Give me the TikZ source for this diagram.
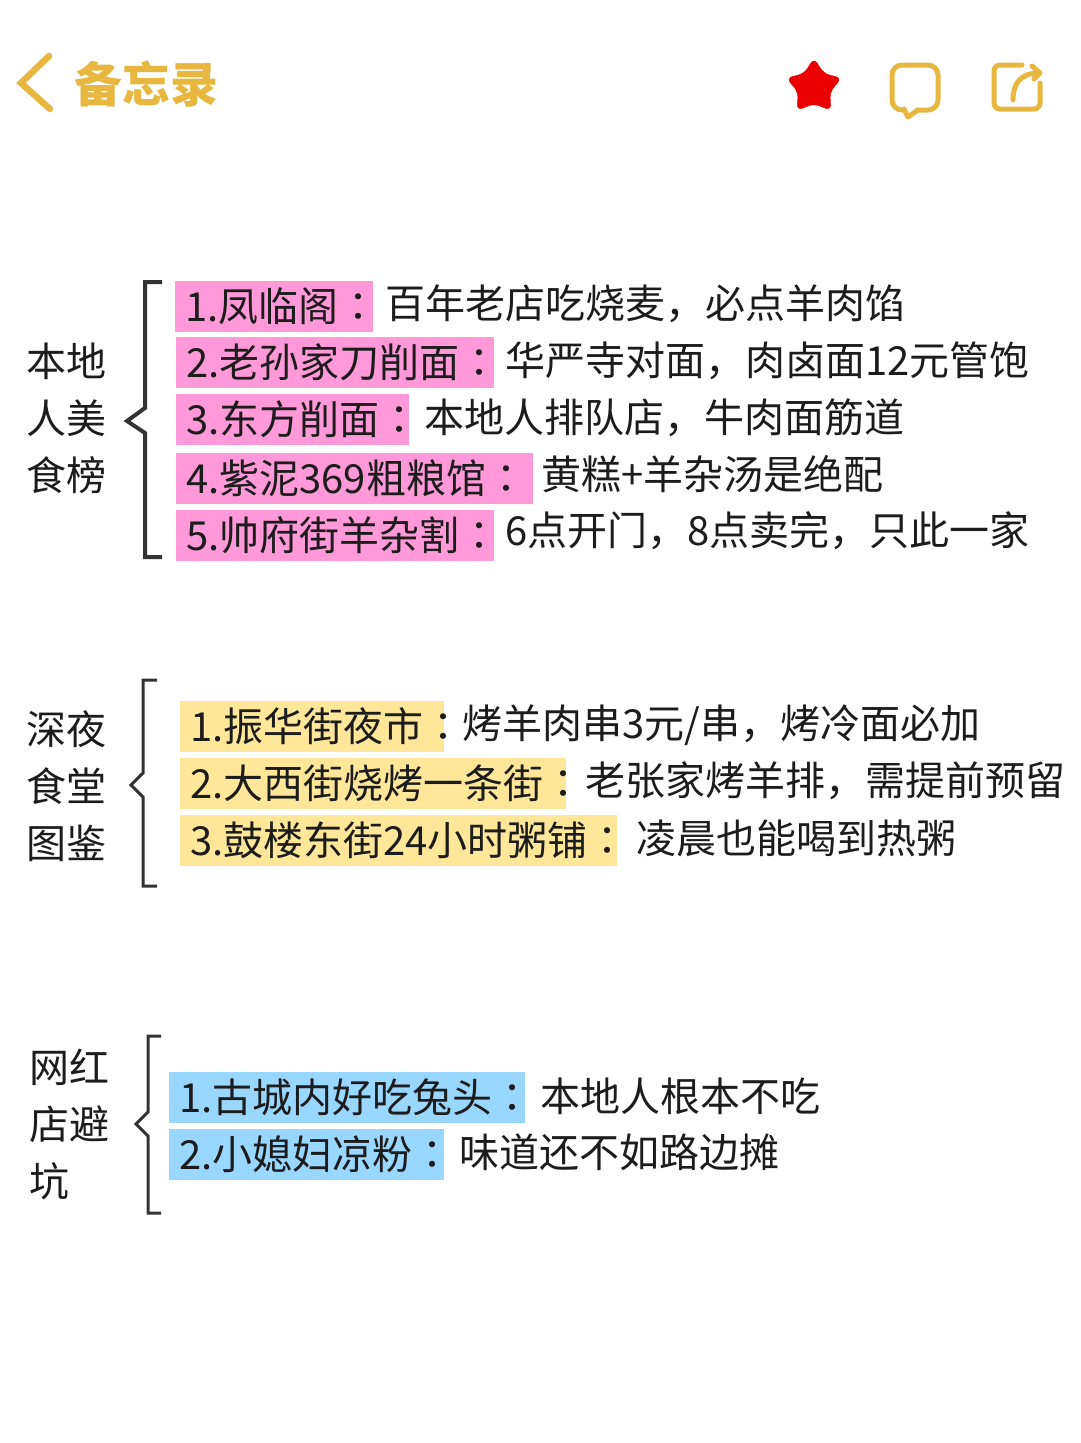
\documentclass[tikz,border=0pt]{standalone}
\usepackage{fontspec}
\usepackage{tikz}
\usetikzlibrary{shapes.geometric}
\setmainfont{Noto Sans CJK SC}
\newfontfamily\tcfont{Noto Sans CJK TC}
\newcommand{\cl}{{\tcfont ：}\kern-10pt}
\definecolor{gold}{HTML}{E8B740}
\definecolor{inkc}{HTML}{1C1C1C}
\definecolor{brk}{HTML}{333333}
\definecolor{pinkbar}{HTML}{FF99D9}
\definecolor{yelbar}{HTML}{FFE79A}
\definecolor{blubar}{HTML}{9AD7FF}
\tikzset{t/.style={anchor=west,inner sep=0pt,text=inkc,font=\fontsize{40}{40}\selectfont}}
\tikzset{h/.style={t,fill=#1,inner xsep=10pt,inner ysep=0pt,minimum height=51pt}}
\tikzset{s/.style={t,align=left,font=\fontsize{40}{57}\selectfont}}
\tikzset{k/.style={brk,line width=#1,line join=miter}}
\tikzset{g/.style={gold,line width=5pt,line cap=round,line join=round}}

\begin{document}
\begin{tikzpicture}[x=1pt,y=-1pt]
  \useasboundingbox[fill=white] (0,0) rectangle (1080,1443);
  % top bar
  \draw[gold,line width=6.5pt,line cap=round,line join=miter] (49,56)--(21,83)--(50,109);
  \node[anchor=west,inner sep=0pt,text=gold,font=\fontsize{48}{48}\selectfont\bfseries] (title) at (74,84) {备忘录};
  \node[star,star points=5,star point ratio=1.75,fill=red!92!black,draw=red!92!black,rounded corners=6pt,inner sep=0pt,minimum size=58pt] (fav) at (814,87) {};
  \draw[g,rounded corners=10pt] (904,110)--(892,110)--(892,65)--(938,65)--(938,110)--(917,110);
  \draw[g,line join=round] (904,109)--(908,117)--(918,110);
  \draw[g,rounded corners=6pt] (1022,65)--(994,65)--(994,109)--(1040,109)--(1040,83);
  \draw[g] (1013,100) .. controls (1013,84) and (1020,73) .. (1039,73);
  \draw[g] (1032,66)--(1040,73)--(1034,79);
  % first block
  \node[s] (S1) at (26,418) {本地\\人美\\食榜};
  \draw[k=4pt] (162,282)--(145,282)--(145,408)--(127,421)--(145,433)--(145,557)--(162,557);
  \node[h=pinkbar,text width=178pt] (P1) at (175,306) {1.凤临阁\cl};
  \node[t] (Q1) at (385,304) {百年老店吃烧麦，必点羊肉馅};
  \node[h=pinkbar,text width=298pt] (P2) at (176,362.5) {2.老孙家刀削面\cl};
  \node[t] (Q2) at (505,361) {华严寺对面，肉卤面12元管饱};
  \node[h=pinkbar,text width=213pt] (P3) at (176,419.5) {3.东方削面\cl};
  \node[t] (Q3) at (424,418) {本地人排队店，牛肉面筋道};
  \node[h=pinkbar,text width=337pt] (P4) at (176,478.5) {4.紫泥369粗粮馆\cl};
  \node[t] (Q4) at (541,474) {黄糕+羊杂汤是绝配};
  \node[h=pinkbar,text width=298pt] (P5) at (176,535.5) {5.帅府街羊杂割\cl};
  \node[t] (Q5) at (505,531) {6点开门，8点卖完，只此一家};
  % second block
  \node[s] (S2) at (26,786) {深夜\\食堂\\图鉴};
  \draw[k=3pt] (157,680)--(143,680)--(143,773)--(131,785)--(143,797)--(143,886)--(157,886);
  \node[h=yelbar,text width=244pt] (Y1) at (180,726) {1.振华街夜市\cl};
  \node[t] (Z1) at (462,725) {烤羊肉串3元/串，烤冷面必加};
  \node[h=yelbar,text width=366pt] (Y2) at (180,783.5) {2.大西街烧烤一条街\cl};
  \node[t] (Z2) at (585,781) {老张家烤羊排，需提前预留};
  \node[h=yelbar,text width=417pt] (Y3) at (180,840.5) {3.鼓楼东街24小时粥铺\cl};
  \node[t] (Z3) at (636,838) {凌晨也能喝到热粥};
  % third block
  \node[s] (S3) at (29,1124) {网红\\店避\\坑};
  \draw[k=3pt] (161,1036)--(148,1036)--(148,1112)--(136,1124)--(148,1136)--(148,1213)--(161,1213);
  \node[h=blubar,text width=336pt] (B1) at (169,1097) {1.古城内好吃兔头\cl};
  \node[t] (C1) at (540,1096) {本地人根本不吃};
  \node[h=blubar,text width=255pt] (B2) at (169,1154.5) {2.小媳妇凉粉\cl};
  \node[t] (C2) at (459,1152) {味道还不如路边摊};
\end{tikzpicture}
\end{document}
